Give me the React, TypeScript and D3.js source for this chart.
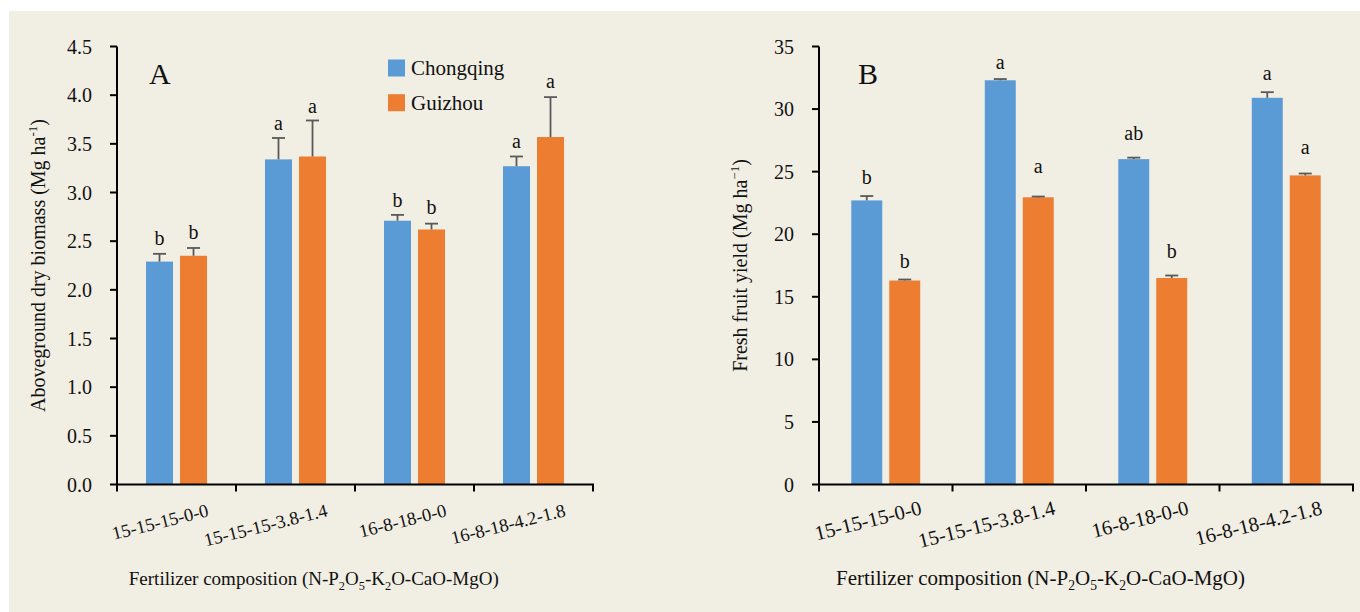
import React from "react";
import * as d3 from "d3";

const categories = ["15-15-15-0-0", "15-15-15-3.8-1.4", "16-8-18-0-0", "16-8-18-4.2-1.8"];
const seriesNames = ["Chongqing", "Guizhou"];

// Panel A: aboveground dry biomass (Mg/ha)
const biomassCQ = [2.29, 3.34, 2.71, 3.27];
const biomassCQErr = [0.08, 0.22, 0.06, 0.10];
const biomassGZ = [2.35, 3.37, 2.62, 3.57];
const biomassGZErr = [0.08, 0.37, 0.06, 0.41];
const biomassLettersCQ = ["b", "a", "b", "a"];
const biomassLettersGZ = ["b", "a", "b", "a"];
const biomassLetterYCQ = [2.46, 3.64, 2.85, 3.46];
const biomassLetterYGZ = [2.52, 3.82, 2.78, 4.07];
const biomassTicks = [0, 0.5, 1.0, 1.5, 2.0, 2.5, 3.0, 3.5, 4.0, 4.5];

// Panel B: fresh fruit yield (Mg/ha)
const yieldCQ = [22.7, 32.3, 26.0, 30.9];
const yieldCQErr = [0.35, 0.1, 0.12, 0.45];
const yieldGZ = [16.3, 22.95, 16.5, 24.7];
const yieldGZErr = [0.08, 0.06, 0.2, 0.15];
const yieldLettersCQ = ["b", "a", "ab", "a"];
const yieldLettersGZ = ["b", "a", "b", "a"];
const yieldLetterYCQ = [24.0, 33.2, 27.5, 32.3];
const yieldLetterYGZ = [17.3, 24.9, 18.1, 26.4];
const yieldTicks = [0, 5, 10, 15, 20, 25, 30, 35];

const BLUE = "#5B9BD5";
const ORANGE = "#ED7D31";
const ERR = "#595959";
const BG = "#F1EEE4";
const FONT = "'Liberation Serif', 'Times New Roman', serif";

type PanelProps = {
  x0: number; x1: number; yTop: number; yBot: number;
  max: number; ticks: number[]; fmt: (v: number) => string;
  a: number[]; aErr: number[]; b: number[]; bErr: number[];
  la: string[]; lb: string[]; lya: number[]; lyb: number[];
  letter: string; letterX: number;
  yTitle: string; yTitleSup: string; yTitleX: number;
  xTitleCx: number; xTitleFont: number;
  xLabelFont: number; xLabelDx: number; xLabelY: number;
  barFrac: number;
};

function Panel(p: PanelProps) {
  const x = d3.scaleBand<string>().domain(categories).range([p.x0, p.x1]).padding(0);
  const y = d3.scaleLinear().domain([0, p.max]).range([p.yBot, p.yTop]);
  const bw = x.bandwidth();
  const barW = bw * p.barFrac;
  const gap = 7;
  const cap = 6.5;
  const series = [
    { vals: p.a, errs: p.aErr, color: BLUE, off: -gap / 2 - barW, letters: p.la, ly: p.lya },
    { vals: p.b, errs: p.bErr, color: ORANGE, off: gap / 2, letters: p.lb, ly: p.lyb },
  ];
  const tickXs = categories.map((c) => x(c)!).concat([p.x1]);
  const yMid = (p.yTop + p.yBot) / 2;
  const sub = p.xTitleFont * 0.65;
  const sd = p.xTitleFont * 0.25;
  return (
    <g>
      {series.map((s, si) =>
        categories.map((c, i) => {
          const cx = x(c)! + bw / 2;
          const bx = cx + s.off;
          const top = y(s.vals[i]);
          const et = y(s.vals[i] + s.errs[i]);
          const mx = bx + barW / 2;
          return (
            <g key={si + "-" + i}>
              <rect x={bx} y={top} width={barW} height={p.yBot - top} fill={s.color} />
              <line x1={mx} x2={mx} y1={top} y2={et} stroke={ERR} strokeWidth={1.8} />
              <line x1={mx - cap} x2={mx + cap} y1={et} y2={et} stroke={ERR} strokeWidth={1.8} />
              <text x={mx} y={y(s.ly[i])} textAnchor="middle" fontSize={20} fontFamily={FONT} fill="#111">
                {s.letters[i]}
              </text>
            </g>
          );
        })
      )}
      {/* y axis */}
      <line x1={p.x0} x2={p.x0} y1={p.yTop} y2={p.yBot + 1} stroke="#000" strokeWidth={2} />
      {p.ticks.map((t) => (
        <g key={"yt" + t}>
          <line x1={p.x0 - 7} x2={p.x0} y1={y(t)} y2={y(t)} stroke="#000" strokeWidth={2} />
          <text x={p.x0 - 25} y={y(t)} dy="0.35em" textAnchor="end" fontSize={20} fontFamily={FONT} fill="#111">
            {p.fmt(t)}
          </text>
        </g>
      ))}
      {/* x axis */}
      <line x1={p.x0 - 1} x2={p.x1 + 1} y1={p.yBot} y2={p.yBot} stroke="#000" strokeWidth={2} />
      {tickXs.map((tx, i) => (
        <line key={"xt" + i} x1={tx} x2={tx} y1={p.yBot} y2={p.yBot + 7} stroke="#000" strokeWidth={2} />
      ))}
      {categories.map((c) => {
        const ax = x(c)! + bw / 2 + p.xLabelDx;
        return (
          <text key={"xl" + c} x={ax} y={p.xLabelY} textAnchor="end" fontSize={p.xLabelFont} fontFamily={FONT} fill="#111"
            transform={`rotate(-14, ${ax}, ${p.xLabelY})`}>
            {c}
          </text>
        );
      })}
      {/* panel letter */}
      <text x={p.letterX} y={84} fontSize={30} fontFamily={FONT} fill="#111">{p.letter}</text>
      {/* y title */}
      <text x={p.yTitleX} y={yMid} textAnchor="middle" fontSize={20} fontFamily={FONT} fill="#111"
        transform={`rotate(-90, ${p.yTitleX}, ${yMid})`}>
        {p.yTitle}
        <tspan fontSize={13} dy={-8}>{p.yTitleSup}</tspan>
        <tspan dy={8}>)</tspan>
      </text>
      {/* x title */}
      <text x={p.xTitleCx} y={585} textAnchor="middle" fontSize={p.xTitleFont} fontFamily={FONT} fill="#111">
        Fertilizer composition (N-P<tspan fontSize={sub} dy={sd}>2</tspan><tspan dy={-sd}>O</tspan>
        <tspan fontSize={sub} dy={sd}>5</tspan><tspan dy={-sd}>-K</tspan>
        <tspan fontSize={sub} dy={sd}>2</tspan><tspan dy={-sd}>O-CaO-MgO)</tspan>
      </text>
    </g>
  );
}

export default function App() {
  return (
    <svg width={1360} height={612} style={{ position: "absolute", left: 0, top: 0 }}>
      <rect x={0} y={0} width={1360} height={612} fill="#fff" />
      <rect x={9} y={11} width={1351} height={601} fill={BG} />
      <Panel
        x0={117} x1={593} yTop={46.5} yBot={484.5} max={4.5} ticks={biomassTicks}
        fmt={d3.format(".1f")}
        a={biomassCQ} aErr={biomassCQErr} b={biomassGZ} bErr={biomassGZErr}
        la={biomassLettersCQ} lb={biomassLettersGZ} lya={biomassLetterYCQ} lyb={biomassLetterYGZ}
        letter="A" letterX={149}
        yTitle="Aboveground dry biomass (Mg ha" yTitleSup="-1" yTitleX={45}
        xTitleCx={313.8} xTitleFont={19}
        xLabelFont={18.5} xLabelDx={33} xLabelY={516} barFrac={0.227}
      />
      <Panel
        x0={819} x1={1353} yTop={46.5} yBot={484.5} max={35} ticks={yieldTicks}
        fmt={d3.format("d")}
        a={yieldCQ} aErr={yieldCQErr} b={yieldGZ} bErr={yieldGZErr}
        la={yieldLettersCQ} lb={yieldLettersGZ} lya={yieldLetterYCQ} lyb={yieldLetterYGZ}
        letter="B" letterX={858}
        yTitle="Fresh fruit yield (Mg ha" yTitleSup="−1" yTitleX={747}
        xTitleCx={1040.5} xTitleFont={21}
        xLabelFont={20.5} xLabelDx={37} xLabelY={514} barFrac={0.232}
      />
      {/* legend */}
      {seriesNames.map((n, i) => (
        <g key={n}>
          <rect x={388} y={59.5 + i * 34.7} width={17} height={17} fill={i === 0 ? BLUE : ORANGE} />
          <text x={411} y={75 + i * 35} fontSize={21} fontFamily={FONT} fill="#111">{n}</text>
        </g>
      ))}
    </svg>
  );
}
